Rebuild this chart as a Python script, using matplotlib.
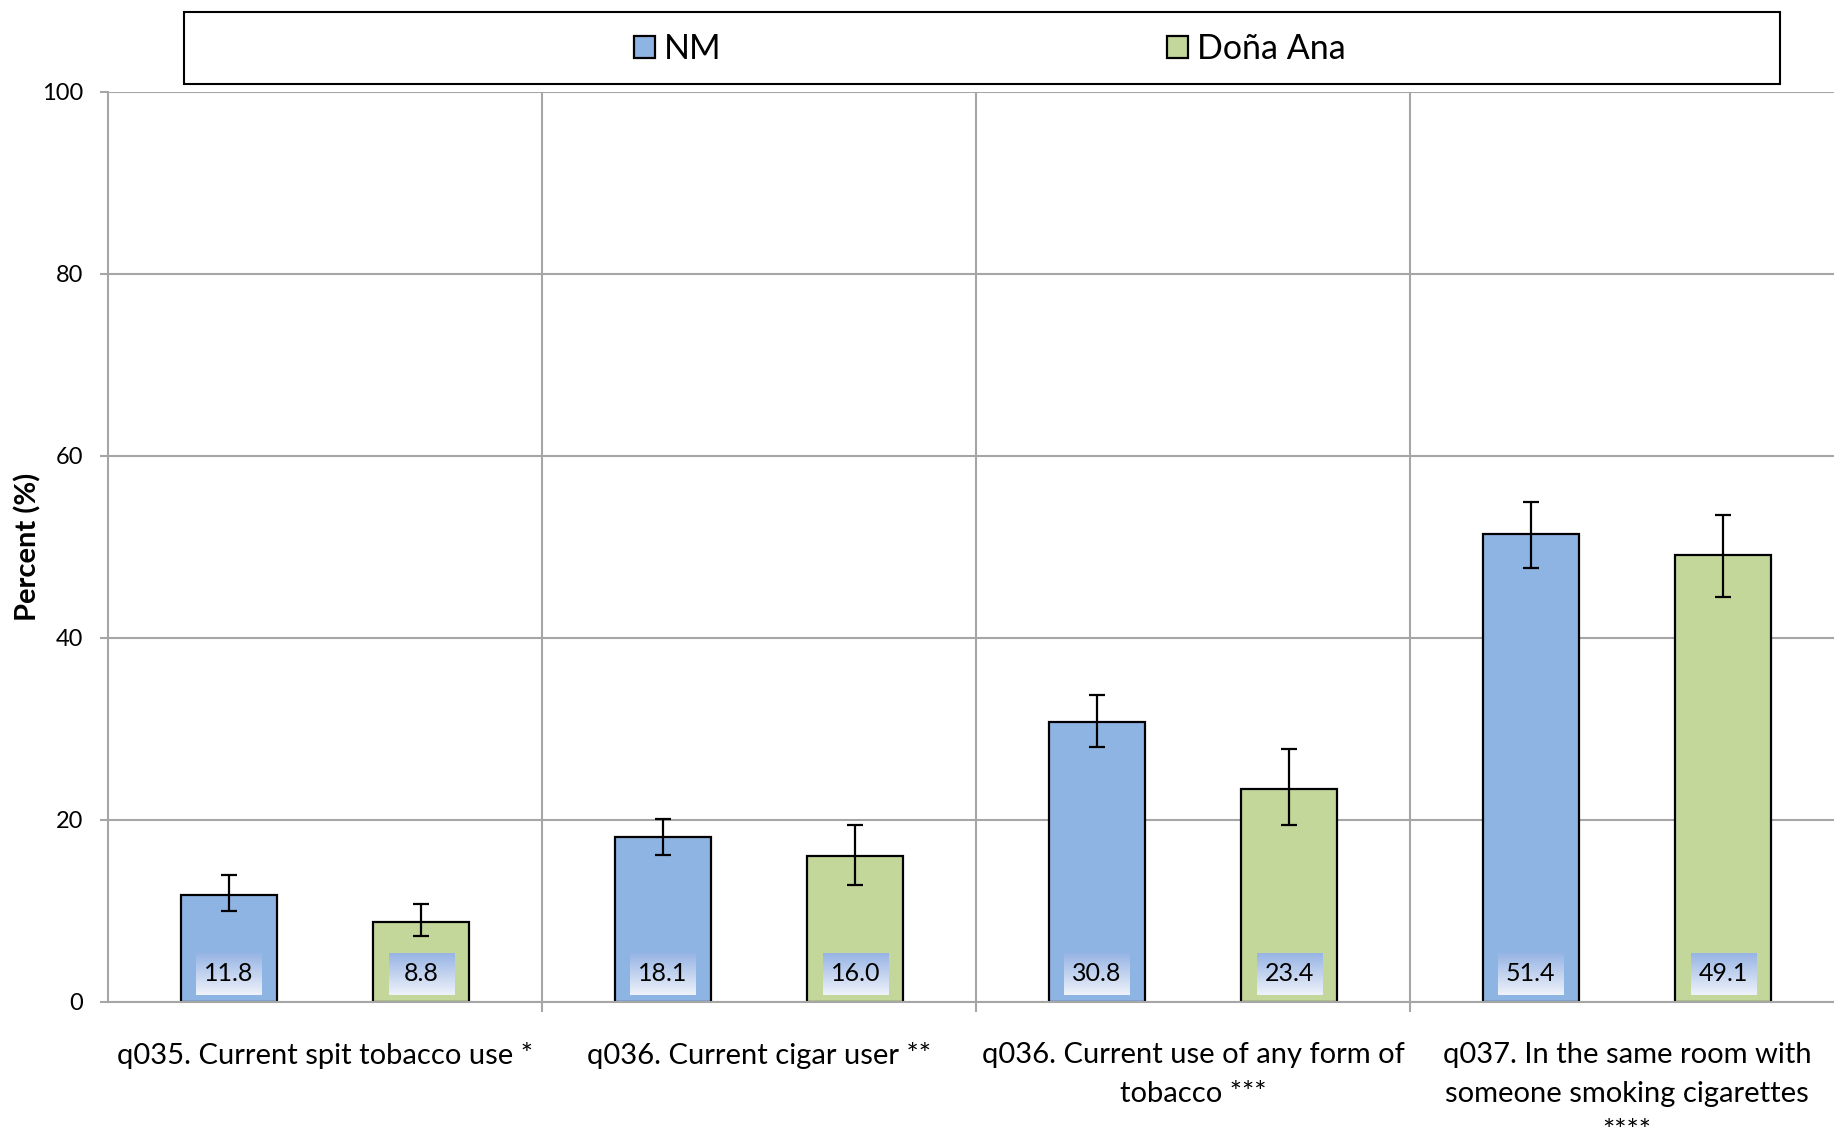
import numpy as np
import matplotlib.pyplot as plt
from matplotlib.colors import LinearSegmentedColormap
from matplotlib.patches import Rectangle

plt.rcParams['font.family'] = ['Lato', 'DejaVu Sans']

##### data #####
categories = ['q035. Current spit tobacco use *',
              'q036. Current cigar user **',
              'q036. Current use of any form of\ntobacco ***',
              'q037. In the same room with\nsomeone smoking cigarettes\n****']
series = ['NM', 'Doña Ana']
nm_vals = [11.8, 18.1, 30.8, 51.4]
nm_low = [10.0, 16.2, 28.0, 47.7]
nm_high = [14.0, 20.1, 33.7, 55.0]
da_vals = [8.8, 16.0, 23.4, 49.1]
da_low = [7.2, 12.9, 19.5, 44.5]
da_high = [10.8, 19.5, 27.8, 53.5]
yticks = [0, 20, 40, 60, 80, 100]

colors = ['#8eb4e3', '#c4d79b']
grid_col = '#a6a6a6'

W, H = 1834, 1133
fig = plt.figure(figsize=(W / 100, H / 100), dpi=100)
ax = fig.add_axes([108 / W, 1 - 1002 / H, (W - 108) / W, (1002 - 92) / H])

x = np.arange(len(categories))
off = 0.222
bw = 0.221
grad = LinearSegmentedColormap.from_list('lbl', ['#97b4e4', '#eef2fa'])
grad_img = np.linspace(0, 1, 64).reshape(-1, 1)

for i, (vals, lo, hi) in enumerate([(nm_vals, nm_low, nm_high), (da_vals, da_low, da_high)]):
    xs = x + (-off if i == 0 else off)
    vals = np.array(vals)
    err = [vals - np.array(lo), np.array(hi) - vals]
    ax.bar(xs, vals, width=bw, color=colors[i], edgecolor='black', linewidth=1.6,
           label=series[i], zorder=2)
    ax.errorbar(xs, vals, yerr=err, fmt='none', ecolor='black', elinewidth=1.6,
                capsize=6, capthick=1.6, zorder=3)
    for xv, v in zip(xs, vals):
        # first row = blue, drawn at the top
        ax.imshow(grad_img, cmap=grad, origin='upper', aspect='auto',
                  extent=(xv - 0.075, xv + 0.075, 0.8, 5.4), zorder=4)
        ax.text(xv, 3.1, f'{v:.1f}', ha='center', va='center', fontsize=18, zorder=5)

ax.set_xlim(-0.5, -0.5 + (W - 108) / 434)
ax.set_ylim(0, 100)
ax.set_yticks(yticks)
ax.set_xticks(x)
ax.set_xticklabels(categories, fontsize=21, linespacing=1.6)
ax.set_xticks(x[:-1] + 0.5, minor=True)
ax.tick_params(axis='x', which='major', length=0, pad=29)
ax.tick_params(axis='x', which='minor', length=7, color=grid_col, width=1.5, direction='out')
ax.tick_params(axis='y', labelsize=17, length=6, color=grid_col, width=1.5, pad=12)
ax.grid(axis='y', color=grid_col, linewidth=1.5)
ax.grid(axis='x', which='minor', color=grid_col, linewidth=1.5)
ax.set_axisbelow(True)
for s in ['top', 'right']:
    ax.spines[s].set_visible(False)
for s in ['left', 'bottom']:
    ax.spines[s].set_color(grid_col)
    ax.spines[s].set_linewidth(1.5)
ax.set_ylabel('Percent (%)', fontsize=21, fontweight='bold', labelpad=0)

# legend box
fig.patches.append(Rectangle((184 / W, 1 - 84 / H), (1780 - 184) / W, 72 / H,
                             transform=fig.transFigure, fill=False, edgecolor='black',
                             linewidth=1.5))
fig.legend(loc='center', bbox_to_anchor=(990 / W, 1 - 49 / H), ncol=2, frameon=False,
           fontsize=24.5, handlelength=0.62, handleheight=0.62, handletextpad=0.25,
           columnspacing=13.1)

plt.savefig('out.png', dpi=100)
